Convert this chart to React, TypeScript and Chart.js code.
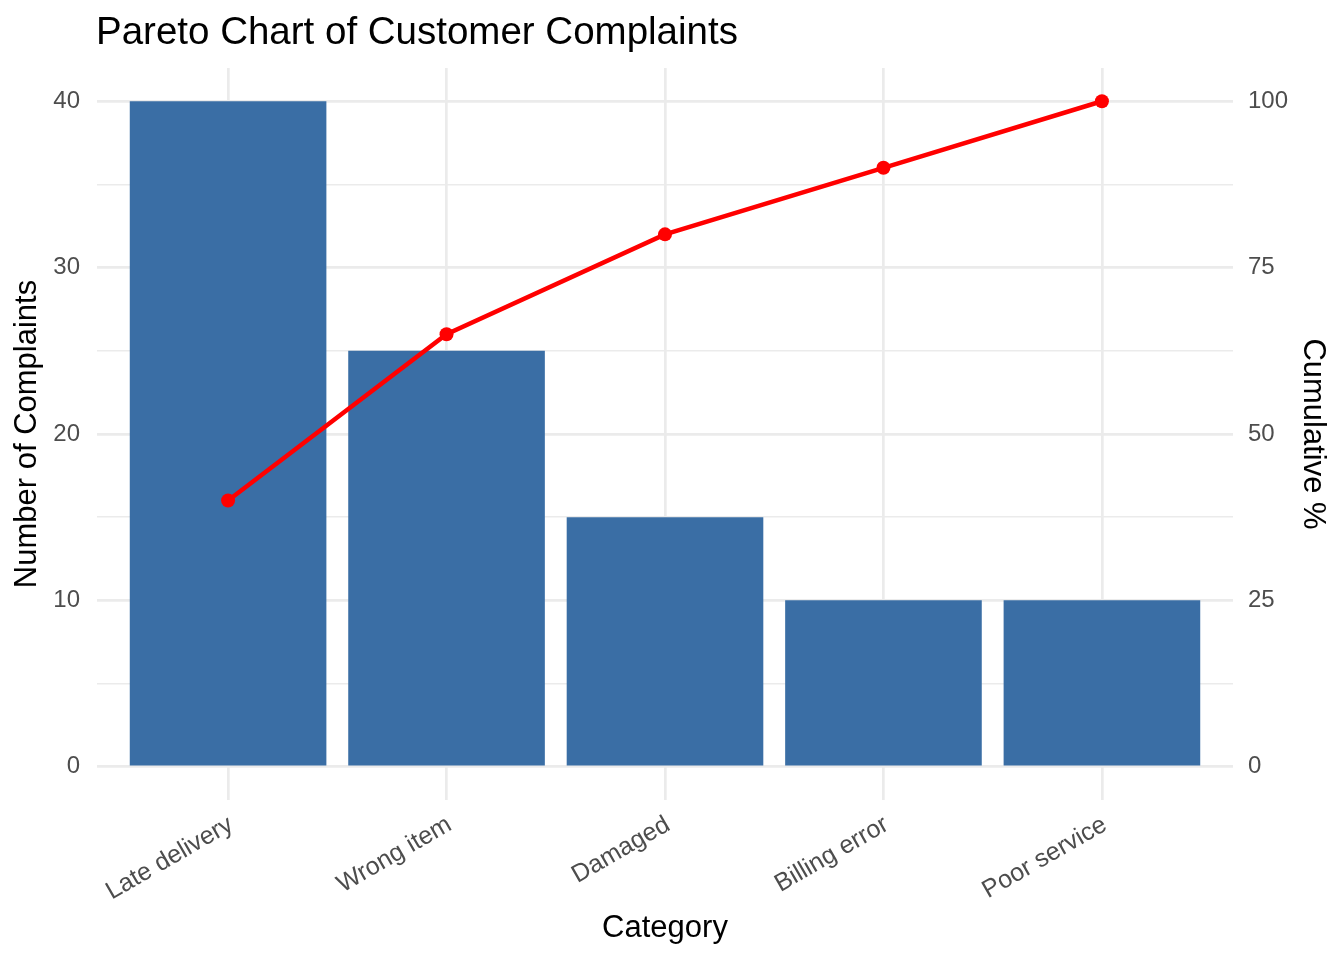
import React, { useEffect, useRef } from 'react';
import { Chart, registerables } from 'chart.js';

Chart.register(...registerables);

const categories = ['Late delivery', 'Wrong item', 'Damaged', 'Billing error', 'Poor service'];
const complaints = [40, 25, 15, 10, 10];
const cumulativePct = [40, 65, 80, 90, 100];
const leftTicks = [0, 5, 10, 15, 20, 25, 30, 35, 40];
const rightTicks = [0, 25, 50, 75, 100];

const FONT = '"Liberation Sans", Arial, Helvetica, sans-serif';
const GRID = '#EBEBEB';
const TICK = '#4D4D4D';

const titlePlugin = {
  id: 'panelTitle',
  afterDraw(chart: Chart) {
    const { ctx, chartArea } = chart;
    ctx.save();
    ctx.font = `38.5px ${FONT}`;
    ctx.fillStyle = '#000000';
    ctx.textAlign = 'left';
    ctx.textBaseline = 'alphabetic';
    ctx.fillText('Pareto Chart of Customer Complaints', chartArea.left - 1, 44);
    ctx.restore();
  },
};

export default function App() {
  const canvasRef = useRef<HTMLCanvasElement>(null);

  useEffect(() => {
    document.body.style.margin = '0';
    if (!canvasRef.current) return;

    const chart = new Chart(canvasRef.current, {
      type: 'bar',
      data: {
        datasets: [
          {
            type: 'line',
            label: 'Cumulative %',
            data: cumulativePct.map((v, i) => ({ x: i, y: v })),
            yAxisID: 'y1',
            borderColor: '#FF0000',
            backgroundColor: '#FF0000',
            borderWidth: 4.5,
            pointRadius: 7,
            pointBorderWidth: 0,
            pointBackgroundColor: '#FF0000',
            tension: 0,
            order: 0,
          },
          {
            type: 'bar',
            label: 'Complaints',
            data: complaints.map((v, i) => ({ x: i, y: v })),
            yAxisID: 'y',
            backgroundColor: '#3A6EA5',
            borderWidth: 0,
            barPercentage: 0.9,
            categoryPercentage: 1.0,
            order: 1,
          },
        ],
      },
      options: {
        responsive: false,
        animation: false,
        layout: { padding: { top: 68, left: 0, right: 0, bottom: 0 } },
        plugins: {
          legend: { display: false },
          tooltip: { enabled: false },
          title: { display: false },
        },
        scales: {
          x: {
            type: 'linear',
            offset: false,
            min: -0.6,
            max: 4.6,
            afterBuildTicks: (axis: any) => {
              axis.ticks = categories.map((_, i) => ({ value: i }));
            },
            afterFit: (axis: any) => {
              axis.height = 160;
              axis.paddingLeft = 0;
              axis.paddingRight = 0;
            },
            border: { display: false },
            grid: { color: GRID, lineWidth: 2.7, drawTicks: false, offset: false },
            ticks: {
              color: TICK,
              font: { family: FONT, size: 25 },
              minRotation: 30,
              maxRotation: 30,
              padding: 10,
              labelOffset: 3,
              autoSkip: false,
              callback: (value: any) => categories[value as number] ?? '',
            },
            title: {
              display: true,
              text: 'Category',
              color: '#000000',
              font: { family: FONT, size: 31 },
              padding: { top: 5, bottom: 12.7 },
            },
          },
          y: {
            type: 'linear',
            position: 'left',
            min: -2,
            max: 42,
            afterBuildTicks: (axis: any) => {
              axis.ticks = leftTicks.map((v) => ({ value: v }));
            },
            afterFit: (axis: any) => {
              axis.width = 97;
            },
            border: { display: false },
            grid: {
              color: GRID,
              drawTicks: false,
              lineWidth: (ctx: any) => (ctx.tick && ctx.tick.value % 10 === 0 ? 2.7 : 1.4),
            },
            ticks: {
              color: TICK,
              font: { family: FONT, size: 24 },
              padding: 17,
              callback: (value: any) => ((value as number) % 10 === 0 ? String(value) : ''),
            },
            title: {
              display: true,
              text: 'Number of Complaints',
              color: '#000000',
              font: { family: FONT, size: 31 },
              padding: { top: 9, bottom: 8 },
            },
          },
          y1: {
            type: 'linear',
            position: 'right',
            min: -5,
            max: 105,
            afterBuildTicks: (axis: any) => {
              axis.ticks = rightTicks.map((v) => ({ value: v }));
            },
            afterFit: (axis: any) => {
              axis.width = 111;
            },
            border: { display: false },
            grid: { display: false, drawTicks: false },
            ticks: {
              color: TICK,
              font: { family: FONT, size: 24 },
              padding: 15,
            },
            title: {
              display: true,
              text: 'Cumulative %',
              color: '#000000',
              font: { family: FONT, size: 31 },
              padding: { top: 13.1, bottom: 6.5 },
            },
          },
        },
      },
      plugins: [titlePlugin],
    });

    return () => {
      chart.destroy();
    };
  }, []);

  return (
    <div style={{ width: 1344, height: 960, background: '#FFFFFF' }}>
      <canvas ref={canvasRef} width={1344} height={960} style={{ width: 1344, height: 960, display: 'block' }} />
    </div>
  );
}
